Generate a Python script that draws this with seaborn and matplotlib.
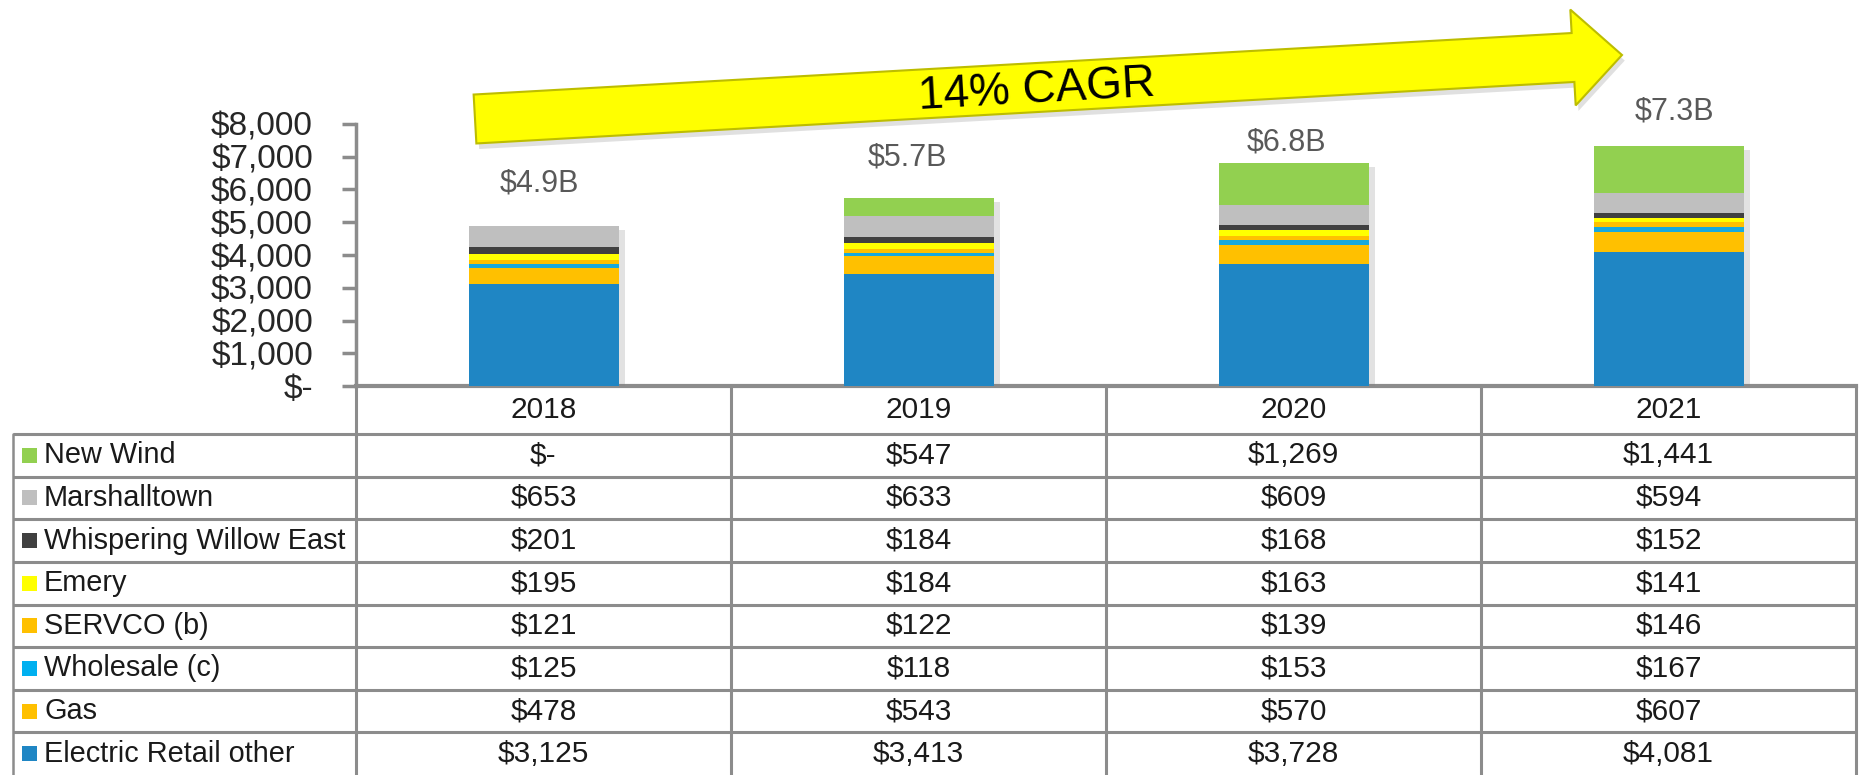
import numpy as np
import pandas as pd
import matplotlib
matplotlib.use("Agg")
import matplotlib.pyplot as plt
import matplotlib.patheffects as pe
from matplotlib.patches import Polygon, Rectangle
import seaborn as sns

# ---------------- data ----------------
years = ["2018", "2019", "2020", "2021"]
# stacking order: bottom -> top
series_names = ["Electric Retail other", "Gas", "Wholesale (c)", "SERVCO (b)",
                "Emery", "Whispering Willow East", "Marshalltown", "New Wind"]
electric_retail = [3125, 3413, 3728, 4081]
gas = [478, 543, 570, 607]
wholesale = [125, 118, 153, 167]
servco = [121, 122, 139, 146]
emery = [195, 184, 163, 141]
whispering_willow = [201, 184, 168, 152]
marshalltown = [653, 633, 609, 594]
new_wind = [0, 547, 1269, 1441]
series_colors = ["#1F86C4", "#FFC000", "#17A9DD", "#FFC000",
                 "#FFFF00", "#404040", "#BFBFBF", "#92D050"]
legend_colors = ["#1F86C4", "#FFC000", "#00B0F0", "#FFC000",
                 "#FFFF00", "#404040", "#BFBFBF", "#92D050"]
y_ticks = [0, 1000, 2000, 3000, 4000, 5000, 6000, 7000, 8000]
y_tick_labels = ["$-", "$1,000", "$2,000", "$3,000", "$4,000",
                 "$5,000", "$6,000", "$7,000", "$8,000"]
cagr_text = "14% CAGR"

series_values = [electric_retail, gas, wholesale, servco,
                 emery, whispering_willow, marshalltown, new_wind]

# ---------------- figure ----------------
sns.set_theme(style="white")
plt.rcParams["font.family"] = ["Liberation Sans", "DejaVu Sans"]

W, H = 1862, 775
fig = plt.figure(figsize=(W / 100, H / 100), dpi=100)

def fx(x):
    return x / W

def fy(y):
    return 1 - y / H

GRID = "#8C8C8C"
TXT = "#1A1A1A"

# ---- bar axes ----
ax = fig.add_axes([fx(356), fy(386), (1856 - 356) / W, (386 - 124) / H])
cum = np.zeros(len(years))
cums = []
for vals in series_values:
    cum = cum + np.array(vals, dtype=float)
    cums.append(cum.copy())

# draw from the top layer down so lower segments overlay
for k in range(len(series_values) - 1, -1, -1):
    d = pd.DataFrame({"year": years, "value": cums[k]})
    sns.barplot(data=d, x="year", y="value", color=series_colors[k],
                saturation=1, width=0.4, ax=ax, errorbar=None, zorder=3)
    n_new = len(years)
    for p in ax.patches[-n_new:]:
        p.set_edgecolor("none")
        p.set_linewidth(0)
        if k == len(series_values) - 1:
            p.set_path_effects([pe.SimplePatchShadow(offset=(5, -3), shadow_rgbFace="#7F7F7F", alpha=0.22),
                                pe.Normal()])

ax.set_xlim(-0.5, 3.5)
ax.set_ylim(0, 8000)
ax.set_xlabel("")
ax.set_ylabel("")
ax.set_xticks([])
ax.set_yticks(y_ticks)
ax.set_yticklabels(y_tick_labels, fontsize=24, color="#262626")
ax.tick_params(axis="y", direction="out", length=10, width=2.5, color=GRID, pad=21, left=True)
for s in ["top", "right"]:
    ax.spines[s].set_visible(False)
ax.spines["left"].set_color(GRID)
ax.spines["left"].set_linewidth(2.5)
ax.spines["bottom"].set_color(GRID)
ax.spines["bottom"].set_linewidth(3)
ax.set_facecolor("none")
ax.patch.set_alpha(0)

# totals
totals = cums[-1]
label_x = [-0.01, 0.97, 1.98, 3.015]
label_y = [6170, 6990, 7435, 8380]
for i, t in enumerate(totals):
    ax.text(label_x[i], label_y[i], f"${t/1000:.1f}B", ha="center", va="center",
            fontsize=22, color="#595959", clip_on=False, zorder=5)

# ---- table axes ----
row_h = 42.625
year_h = 48 / row_h
n_rows = len(series_names)
tax = fig.add_axes([fx(13), fy(775), (1856 - 13) / W, (775 - 386) / H])
x_left = -0.5 - 343 / 375
tax.set_xlim(x_left, 3.5)
tax.set_ylim(0, n_rows + year_h)
tax.axis("off")

lw = 2.2
# horizontal lines
for r in range(1, n_rows + 1):
    tax.plot([x_left, 3.5], [r, r], color=GRID, lw=lw, clip_on=False, solid_capstyle="butt")
# vertical lines
tax.plot([x_left, x_left], [0, n_rows], color=GRID, lw=1.8, clip_on=False)
for c in range(5):
    xc = -0.5 + c
    tax.plot([xc, xc], [0, n_rows + year_h], color=GRID, lw=lw, clip_on=False,
             solid_capstyle="butt")

# year header
for i, yr in enumerate(years):
    tax.text(i, n_rows + year_h / 2, yr, ha="center", va="center", fontsize=21.5, color=TXT)

def fmt(v):
    return "$-" if v == 0 else f"${v:,.0f}"

# rows: top row is last series
sq_w = 15 / 375
for r in range(n_rows):
    k = n_rows - 1 - r
    yc = n_rows - r - 0.5
    tax.add_patch(Rectangle((x_left + 9 / 375, yc - 7.5 / row_h), sq_w, 15 / row_h,
                            facecolor=legend_colors[k], edgecolor="none"))
    tax.text(x_left + 31 / 375, yc, series_names[k], ha="left", va="center",
             fontsize=20.8, color=TXT)
    for i in range(len(years)):
        tax.text(i, yc, fmt(series_values[k][i]), ha="center", va="center",
                 fontsize=21.5, color=TXT)

# ---- CAGR arrow (annotation) ----
oax = fig.add_axes([0, 0, 1, 1])
oax.set_xlim(0, W)
oax.set_ylim(H, 0)
oax.axis("off")
oax.patch.set_alpha(0)
p0 = np.array([475.0, 119.0])
p1 = np.array([1573.0, 57.5])
tip = np.array([1622.0, 55.0])
d = (p1 - p0) / np.linalg.norm(p1 - p0)
nrm = np.array([d[1], -d[0]])
half = 24.5
head_half = 48
pts = [p0 - nrm * half, p1 - nrm * half, p1 - nrm * head_half, tip,
       p1 + nrm * head_half, p1 + nrm * half, p0 + nrm * half]
arrow = Polygon(pts, closed=True, facecolor="#FFFF00", edgecolor="#BDBD00", lw=1.5)
arrow.set_path_effects([pe.SimplePatchShadow(offset=(2, -4), shadow_rgbFace="#9A9A9A", alpha=0.3),
                        pe.Normal()])
oax.add_patch(arrow)
ang = np.degrees(np.arctan2(-(p1 - p0)[1], (p1 - p0)[0]))
oax.text(1037, 90, cagr_text, ha="center", va="center", rotation=ang,
         rotation_mode="anchor", fontsize=33, color="black")

fig.savefig("out.png", dpi=100, facecolor="white")
